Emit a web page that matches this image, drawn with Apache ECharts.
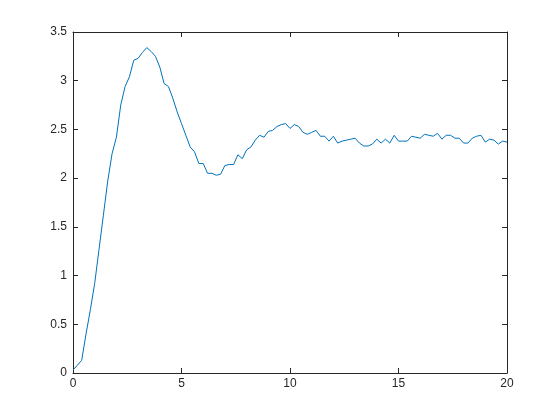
<!DOCTYPE html>
<html>
<head>
<meta charset="utf-8">
<script src="https://cdn.jsdelivr.net/npm/echarts@6/dist/echarts.min.js"></script>
<style>
  html, body { margin: 0; padding: 0; background: #fff; }
  #chart { width: 560px; height: 420px; }
</style>
</head>
<body>
<div id="chart"></div>
<script>
// time samples, step 0.2
const tValues = Array.from({ length: 101 }, (_, i) => +(i * 0.2).toFixed(1))

// response
const yValues = [
  0.03, 0.08, 0.13, 0.40, 0.65, 0.92, 1.27, 1.62, 1.97, 2.25,
  2.42, 2.75, 2.94, 3.04, 3.21, 3.23, 3.29, 3.34, 3.30, 3.25,
  3.14, 2.97, 2.94, 2.82, 2.68, 2.56, 2.44, 2.32, 2.27, 2.15,
  2.15, 2.05, 2.05, 2.03, 2.04, 2.13, 2.14, 2.14, 2.24, 2.20,
  2.29, 2.32, 2.39, 2.44, 2.42, 2.48, 2.49, 2.53, 2.55, 2.56,
  2.51, 2.55, 2.53, 2.47, 2.45, 2.47, 2.49, 2.43, 2.43, 2.38,
  2.43, 2.36, 2.38, 2.39, 2.40, 2.41, 2.36, 2.33, 2.33, 2.35,
  2.40, 2.36, 2.40, 2.36, 2.44, 2.38, 2.38, 2.38, 2.43, 2.42,
  2.41, 2.45, 2.44, 2.43, 2.46, 2.40, 2.44, 2.44, 2.41, 2.41,
  2.36, 2.36, 2.41, 2.43, 2.44, 2.37, 2.40, 2.39, 2.35, 2.38,
  2.37
]

const AXIS_COLOR = '#262626'
const LINE_COLOR = '#0072BD'

const chart = echarts.init(document.getElementById('chart'), null, { renderer: 'canvas' })

const baseAxis = {
  type: 'value',
  axisLine: { show: true, onZero: false, lineStyle: { color: AXIS_COLOR, width: 1 } },
  axisTick: { show: true, inside: true, length: 5, lineStyle: { color: AXIS_COLOR } },
  splitLine: { show: false }
}
const labelStyle = { color: AXIS_COLOR, fontSize: 12, fontFamily: 'Liberation Sans, Arial, sans-serif' }

chart.setOption({
  animation: false,
  backgroundColor: '#ffffff',
  grid: { left: 73, right: 53, top: 32, bottom: 47, containLabel: false },
  xAxis: [
    { ...baseAxis, position: 'bottom', min: 0, max: 20, interval: 5,
      axisLabel: { ...labelStyle, margin: 5 } },
    { ...baseAxis, position: 'top', min: 0, max: 20, interval: 5,
      axisLabel: { show: false } }
  ],
  yAxis: [
    { ...baseAxis, position: 'left', min: 0, max: 3.5, interval: 0.5,
      axisLabel: { ...labelStyle, margin: 6 } },
    { ...baseAxis, position: 'right', min: 0, max: 3.5, interval: 0.5,
      axisLabel: { show: false } }
  ],
  series: [{
    type: 'line',
    xAxisIndex: 0,
    yAxisIndex: 0,
    data: tValues.map((t, i) => [t, yValues[i]]),
    showSymbol: false,
    lineStyle: { color: LINE_COLOR, width: 1 },
    itemStyle: { color: LINE_COLOR }
  }]
})
</script>
</body>
</html>
